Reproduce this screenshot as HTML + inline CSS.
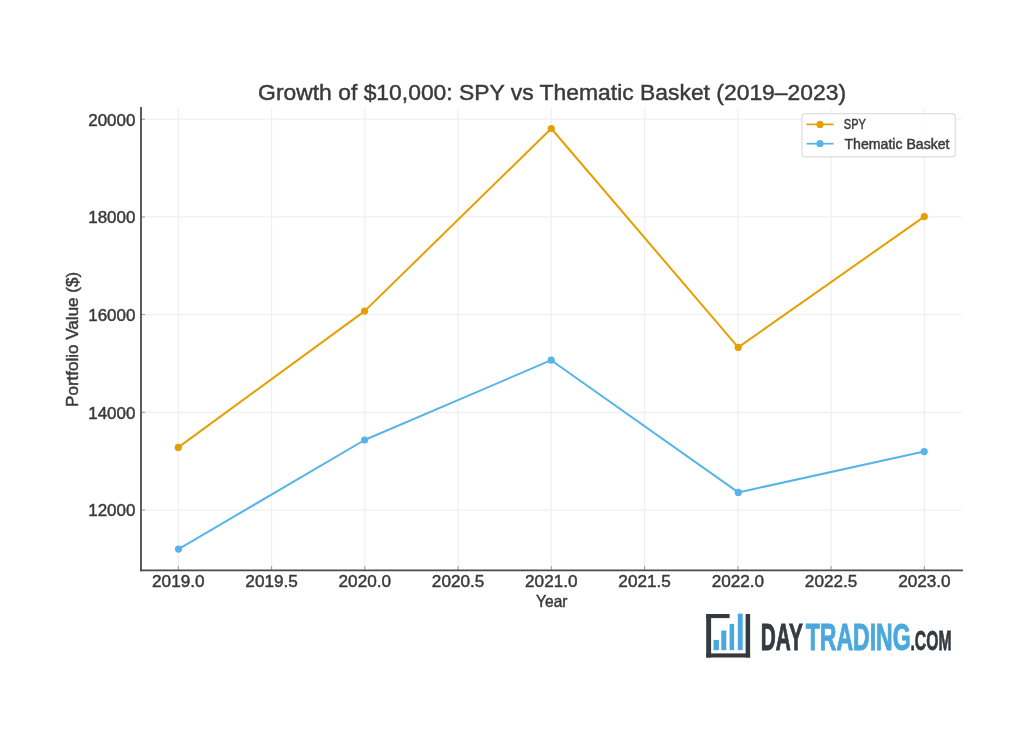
<!DOCTYPE html>
<html><head><meta charset="utf-8">
<style>
html,body{margin:0;padding:0;background:#fff;width:1024px;height:731px;overflow:hidden}
svg{display:block;filter:blur(0.45px)}
text{font-family:"Liberation Sans",sans-serif;fill:#3a3a3a;stroke:#3a3a3a;stroke-width:0.45}
</style></head><body>
<svg width="1024" height="731" viewBox="0 0 1024 731">
<rect width="1024" height="731" fill="#fff"/>
<!-- grid -->
<g stroke="#f0f0f0" stroke-width="1.2" fill="none">
<line x1="178.3" y1="108" x2="178.3" y2="570" />
<line x1="271.6" y1="108" x2="271.6" y2="570" />
<line x1="364.8" y1="108" x2="364.8" y2="570" />
<line x1="458.1" y1="108" x2="458.1" y2="570" />
<line x1="551.3" y1="108" x2="551.3" y2="570" />
<line x1="644.6" y1="108" x2="644.6" y2="570" />
<line x1="737.9" y1="108" x2="737.9" y2="570" />
<line x1="831.1" y1="108" x2="831.1" y2="570" />
<line x1="924.4" y1="108" x2="924.4" y2="570" />
<line x1="141" y1="119.2" x2="961.7" y2="119.2" />
<line x1="141" y1="216.9" x2="961.7" y2="216.9" />
<line x1="141" y1="314.6" x2="961.7" y2="314.6" />
<line x1="141" y1="412.4" x2="961.7" y2="412.4" />
<line x1="141" y1="510.1" x2="961.7" y2="510.1" />
</g>
<!-- ticks -->
<g stroke="#999" stroke-width="1" fill="none">
<line x1="178.3" y1="566" x2="178.3" y2="570" />
<line x1="271.6" y1="566" x2="271.6" y2="570" />
<line x1="364.8" y1="566" x2="364.8" y2="570" />
<line x1="458.1" y1="566" x2="458.1" y2="570" />
<line x1="551.3" y1="566" x2="551.3" y2="570" />
<line x1="644.6" y1="566" x2="644.6" y2="570" />
<line x1="737.9" y1="566" x2="737.9" y2="570" />
<line x1="831.1" y1="566" x2="831.1" y2="570" />
<line x1="924.4" y1="566" x2="924.4" y2="570" />
<line x1="141" y1="119.2" x2="145" y2="119.2" />
<line x1="141" y1="216.9" x2="145" y2="216.9" />
<line x1="141" y1="314.6" x2="145" y2="314.6" />
<line x1="141" y1="412.4" x2="145" y2="412.4" />
<line x1="141" y1="510.1" x2="145" y2="510.1" />
</g>
<!-- spines -->
<g stroke="#4a4a4a" stroke-width="1.8" fill="none" stroke-linecap="square">
<line x1="141" y1="108" x2="141" y2="570.4" />
<line x1="141" y1="570.4" x2="962" y2="570.4" />
</g>
<!-- data -->
<g fill="none" stroke-width="2" stroke-linejoin="round" stroke-linecap="round">
<polyline stroke="#E69F00" points="178.3,447.4 364.6,311.1 551.3,128.5 738.2,347.4 924.3,216.6"/>
<polyline stroke="#56B4E9" points="178.5,549.1 364.6,440 551.2,360.2 738.3,492.4 924.2,451.6"/>
</g>
<g fill="#E69F00">
<circle cx="178.3" cy="447.4" r="3.6"/><circle cx="364.6" cy="311.1" r="3.6"/><circle cx="551.3" cy="128.5" r="3.6"/><circle cx="738.2" cy="347.4" r="3.6"/><circle cx="924.3" cy="216.6" r="3.6"/>
</g>
<g fill="#56B4E9">
<circle cx="178.5" cy="549.1" r="3.6"/><circle cx="364.6" cy="440" r="3.6"/><circle cx="551.2" cy="360.2" r="3.6"/><circle cx="738.3" cy="492.4" r="3.6"/><circle cx="924.2" cy="451.6" r="3.6"/>
</g>
<!-- title -->
<text x="258.1" y="100" font-size="22.5" textLength="588" lengthAdjust="spacingAndGlyphs">Growth of $10,000: SPY vs Thematic Basket (2019–2023)</text>
<!-- y tick labels -->
<g font-size="16.5" text-anchor="end">
<text x="135.4" y="125.5" textLength="47.2" lengthAdjust="spacingAndGlyphs">20000</text>
<text x="135.4" y="223.2" textLength="47.2" lengthAdjust="spacingAndGlyphs">18000</text>
<text x="135.4" y="320.9" textLength="47.2" lengthAdjust="spacingAndGlyphs">16000</text>
<text x="135.4" y="418.7" textLength="47.2" lengthAdjust="spacingAndGlyphs">14000</text>
<text x="135.4" y="516.4" textLength="47.2" lengthAdjust="spacingAndGlyphs">12000</text>
</g>
<!-- x tick labels -->
<g font-size="16.5" text-anchor="middle">
<text x="178.3" y="586.8" textLength="52.5" lengthAdjust="spacingAndGlyphs">2019.0</text>
<text x="271.6" y="586.8" textLength="52.5" lengthAdjust="spacingAndGlyphs">2019.5</text>
<text x="364.8" y="586.8" textLength="52.5" lengthAdjust="spacingAndGlyphs">2020.0</text>
<text x="458.1" y="586.8" textLength="52.5" lengthAdjust="spacingAndGlyphs">2020.5</text>
<text x="551.3" y="586.8" textLength="52.5" lengthAdjust="spacingAndGlyphs">2021.0</text>
<text x="644.6" y="586.8" textLength="52.5" lengthAdjust="spacingAndGlyphs">2021.5</text>
<text x="737.9" y="586.8" textLength="52.5" lengthAdjust="spacingAndGlyphs">2022.0</text>
<text x="831.1" y="586.8" textLength="52.5" lengthAdjust="spacingAndGlyphs">2022.5</text>
<text x="924.4" y="586.8" textLength="52.5" lengthAdjust="spacingAndGlyphs">2023.0</text>
</g>
<!-- axis labels -->
<text x="551.75" y="607.2" font-size="16.5" text-anchor="middle" textLength="31.5" lengthAdjust="spacingAndGlyphs">Year</text>
<text transform="translate(78,339.4) rotate(-90)" x="0" y="0" font-size="15.8" text-anchor="middle" textLength="135" lengthAdjust="spacingAndGlyphs">Portfolio Value ($)</text>
<!-- legend -->
<rect x="802" y="113.7" width="153.3" height="43.1" rx="3" fill="#fff" fill-opacity="0.85" stroke="#dedede" stroke-width="1.2"/>
<line x1="806.5" y1="124.4" x2="833.6" y2="124.4" stroke="#E69F00" stroke-width="1.7"/>
<circle cx="820" cy="124.4" r="3.6" fill="#E69F00"/>
<line x1="806.5" y1="143.7" x2="833.6" y2="143.7" stroke="#56B4E9" stroke-width="1.7"/>
<circle cx="820" cy="143.7" r="3.6" fill="#56B4E9"/>
<text x="843.8" y="129.2" font-size="13.8" textLength="22" lengthAdjust="spacingAndGlyphs">SPY</text>
<text x="844.5" y="148.7" font-size="13.8" textLength="105" lengthAdjust="spacingAndGlyphs">Thematic Basket</text>
<!-- logo -->
<g fill="#343a40">
<rect x="706.2" y="614" width="4.9" height="43.5"/>
<rect x="706.2" y="614" width="23.4" height="4.1"/>
<rect x="745.6" y="614" width="4.5" height="43.5"/>
<rect x="706.2" y="653.4" width="43.9" height="4.1"/>
</g>
<g fill="#4aa8dc">
<rect x="713.5" y="639.9" width="5.4" height="10.3"/>
<rect x="721.3" y="630.5" width="5" height="19.7"/>
<rect x="729.6" y="623.9" width="4.5" height="26.3"/>
<rect x="737.8" y="613.6" width="4.9" height="36.6"/>
</g>
<text x="760.8" y="649.5" font-size="37.8" font-weight="bold" style="fill:#343a40;stroke:#343a40;stroke-width:1" textLength="42" lengthAdjust="spacingAndGlyphs">DAY</text>
<text x="805.7" y="649.5" font-size="37.8" font-weight="bold" style="fill:#4aa8dc;stroke:#4aa8dc;stroke-width:1" textLength="105" lengthAdjust="spacingAndGlyphs">TRADING</text>
<text x="910.5" y="649.5" font-size="28" font-weight="bold" style="fill:#343a40;stroke:#343a40;stroke-width:0.8" textLength="41" lengthAdjust="spacingAndGlyphs">.COM</text>
</svg>
</body></html>
